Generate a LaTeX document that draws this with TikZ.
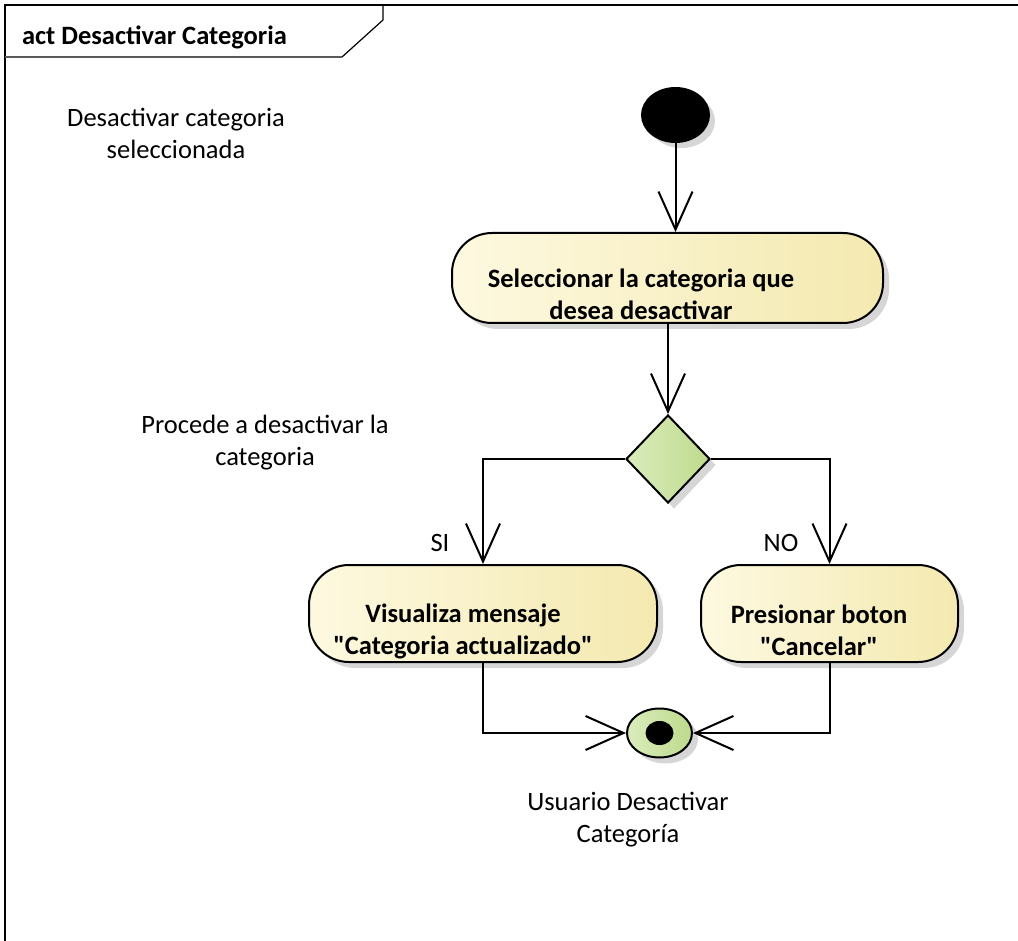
\documentclass[tikz,border=0pt]{standalone}
\usepackage{fontspec}
\setmainfont{Carlito}
\usetikzlibrary{arrows.meta,shapes.geometric,shadows}
\definecolor{accionclaro}{RGB}{253,249,224}
\definecolor{accionoscuro}{RGB}{244,233,176}
\definecolor{decisionclaro}{RGB}{218,236,188}
\definecolor{decisionoscuro}{RGB}{190,218,140}
\definecolor{sombra}{RGB}{214,214,214}

\begin{document}
\begin{tikzpicture}[x=1pt, y=-1pt, line width=2pt, >={Straight Barb[length=38pt, width=34pt]},
    sombreado/.style={drop shadow={shadow xshift=6pt, shadow yshift=-6pt, fill=sombra, opacity=1}},
    accion/.style={draw, rounded corners=40pt, left color=accionclaro, right color=accionoscuro, sombreado, inner sep=0pt},
    decision/.style={draw, diamond, inner sep=0pt, left color=decisionclaro, right color=decisionoscuro, sombreado},
    texto/.style={font=\fontsize{26.5}{32}\selectfont, align=center, inner sep=0pt},
    textoacc/.style={texto, font=\fontsize{26.5}{32}\selectfont\bfseries}]
    \useasboundingbox (0,0) rectangle (1018,941);
    \draw (1018,5) -- (5,5) -- (5,941);
    \draw[line width=1.2pt] (383,5) -- (383,20) -- (342,57);
    \draw[line width=1.5pt, black!65] (342,57) -- (5,57);
    \node[font=\fontsize{26.5}{30}\selectfont\bfseries, anchor=base west, inner sep=0pt] (titulo) at (21,45) {act Desactivar Categoria};

    \node[texto] (nota1) at (176,133) {Desactivar categoria\\seleccionada};
    \node[texto] (nota2) at (265,443) {Procede a desactivar la\\categoria};

    \node[draw, ellipse, fill=black, minimum width=67pt, minimum height=54pt, sombreado] (inicio) at (675.5,115) {};
    \node[accion, minimum width=431pt, minimum height=90pt] (sel) at (667.5,278) {};
    \node[textoacc] (seltxt) at (641,294) {Seleccionar la categoria que\\desea desactivar};
    \node[decision, minimum width=84pt, minimum height=88pt] (decision) at (668,459) {};
    \node[accion, minimum width=348pt, minimum height=97pt] (visualiza) at (483,613.5) {};
    \node[textoacc] (visualizatxt) at (463,631) {Visualiza mensaje\\\textquotedbl Categoria actualizado\textquotedbl};
    \node[accion, minimum width=257pt, minimum height=97pt] (presionar) at (829.5,613.5) {};
    \node[textoacc] (presionartxt) at (819,630) {Presionar boton\\\textquotedbl Cancelar\textquotedbl};
    \node[draw, ellipse, left color=decisionclaro, right color=decisionoscuro, minimum width=65pt, minimum height=49pt, sombreado] (final) at (659.5,733) {};
    \node[ellipse, fill=black, minimum width=28pt, minimum height=24pt, inner sep=0pt] (finalint) at (659.5,733) {};
    \node[texto] (nota3) at (628,820) {Usuario Desactivar\\Categoría};

    \node[texto] (si) at (440,543) {SI};
    \node[texto] (no) at (781,543) {NO};

    \draw[->] (inicio) -- (inicio |- sel.north);
    \draw[->] (sel.south -| decision) -- (decision.north);
    \draw[->] (decision.west) -| (visualiza.north);
    \draw[->] (decision.east) -| (presionar.north);
    \draw[->] (visualiza.south) |- (final.west);
    \draw[->] (presionar.south) |- (final.east);
\end{tikzpicture}
\end{document}
